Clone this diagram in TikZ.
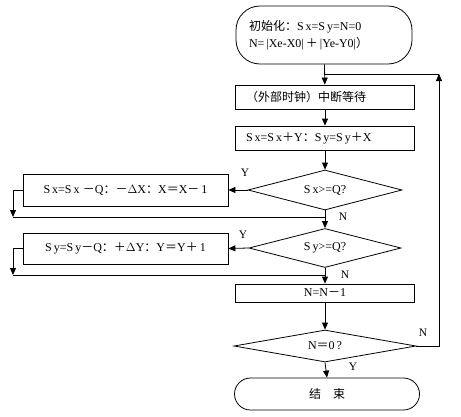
\documentclass[tikz,border=0pt]{standalone}
\usepackage{fontspec}
\setmainfont{Liberation Serif}
\newfontfamily\cjk{Noto Sans CJK SC}
\usepackage{tikz}
\usetikzlibrary{arrows.meta,positioning,calc,shapes.geometric}

\begin{document}
\begin{tikzpicture}[
    x=1pt,y=-1pt,
    line width=0.8pt,
    font=\fontsize{12}{17}\selectfont,
    procbox/.style={draw,rectangle,inner sep=2pt,align=center},
    termbox/.style={draw,rectangle,inner sep=2pt},
    testbox/.style={draw,diamond,aspect=3.8,inner sep=0pt},
    lbl/.style={font=\fontsize{11.5}{13}\selectfont},
    >={Triangle[length=7pt,width=6pt]}
]
\useasboundingbox (0,0) rectangle (461,416);

% main column
\node[termbox,rounded corners=24pt,minimum width=176,minimum height=58,
      text width=150,align=left] (start) at (324,35)
    {{\cjk 初始化：}S\,x=S\,y=N=0\\N=\,|Xe-X0|\,{\cjk ＋}\,|Ye-Y0|{\cjk ）}};
\node[procbox,minimum width=179,minimum height=24,text width=158,align=left] (wait) at (325,97)
    {\cjk （外部时钟）中断等待};
\node[procbox,minimum width=179,minimum height=24,text width=158,align=left] (accum) at (325,138)
    {S\,x=S\,x{\cjk ＋}Y{\cjk ：}S\,y=S\,y{\cjk ＋}X};
\node[testbox,minimum width=154,minimum height=40] (dx) at (325,190) {S\,x>=Q?};
\node[testbox,minimum width=152,minimum height=39] (dy) at (325,248) {S\,y>=Q?};
\node[procbox,minimum width=179,minimum height=18] (dec) at (325,293) {N=N{\cjk －}1};
\node[testbox,minimum width=182,minimum height=32] (dn) at (325,346) {N{\cjk ＝}0\,?};
\node[termbox,rounded corners=16pt,minimum width=185,minimum height=32] (stop) at (327,394)
    {\cjk 结\quad 束};

% side boxes
\node[procbox,minimum width=205,minimum height=32] (subx) at (125.5,190)
    {S\,x=S\,x\;{\cjk －}Q{\cjk ：－}$\Delta$X{\cjk ：}X{\cjk ＝}X{\cjk －}\,1};
\node[procbox,minimum width=205,minimum height=31] (suby) at (125.5,248.5)
    {S\,y=S\,y{\cjk －}Q{\cjk ：＋}$\Delta$Y{\cjk ：}Y{\cjk ＝}Y{\cjk ＋}\,1};

% junction points
\coordinate (jtop) at (325,74);
\coordinate (loop) at (439,74);
\coordinate (bx) at (13,217);
\coordinate (jx) at (325,217);
\coordinate (by) at (13,275);
\coordinate (jy) at (325,275);

\draw[->] (start) -- (wait);
\draw[->] (wait) -- (accum);
\draw[->] (accum) -- (dx);
\draw[->] (dx.west) -- (subx.east);
\draw[->] (subx.west) -| (bx);
\draw (bx) -- (jx);
\draw[->] (dx.south) -- (dy.north);
\draw[->] (dy.west) -- (suby.east);
\draw[->] (suby.west) -| (by);
\draw (by) -- (jy);
\draw[->] (dy.south) -- (dec.north);
\draw[->] (dec) -- (dn);
\draw[->] (dn.south) -- (stop.north);
\draw[->] (dn.east) -| (loop);
\draw (loop) -- (jtop);

% branch labels
\node[lbl] (ydx) at (245,173) {Y};
\node[lbl] (ndx) at (343,217) {N};
\node[lbl] (ydy) at (243,235) {Y};
\node[lbl] (ndy) at (345,275) {N};
\node[lbl] (ndn) at (423,333) {N};
\node[lbl] (ydn) at (353,367) {Y};
\end{tikzpicture}
\end{document}
